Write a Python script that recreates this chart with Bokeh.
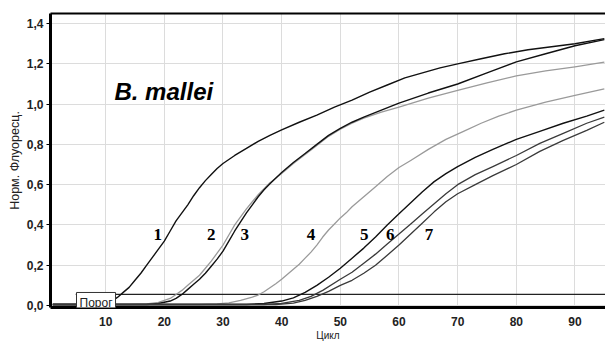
from bokeh.plotting import figure
from bokeh.models import (Range1d, FixedTicker, LinearAxis, Label,
                          CustomJSTickFormatter, ColumnDataSource)
from bokeh.core.properties import value
from bokeh.embed import file_html
from bokeh.resources import INLINE

# ---- data ----
c1_x = [1, 5, 9, 11, 12, 13, 14, 15, 16, 17, 18, 19, 20, 21, 22, 23, 24, 25, 26, 27, 28, 29, 30, 32, 34, 36, 38, 40, 43, 46, 49, 52, 55, 58, 61, 64, 67, 70, 74, 78, 82, 86, 90, 95]
c1_y = [0.005, 0.005, 0.008, 0.02, 0.04, 0.065, 0.09, 0.125, 0.16, 0.20, 0.24, 0.28, 0.32, 0.37, 0.42, 0.46, 0.50, 0.545, 0.585, 0.62, 0.65, 0.68, 0.705, 0.745, 0.78, 0.815, 0.845, 0.872, 0.91, 0.945, 0.985, 1.02, 1.06, 1.095, 1.13, 1.155, 1.18, 1.20, 1.225, 1.25, 1.27, 1.285, 1.30, 1.325]

c2_x = [1, 14, 17, 19, 21, 22, 23, 24, 25, 26, 27, 28, 29, 30, 31, 32, 33, 34, 35, 36, 37, 38, 40, 42, 44, 46, 48, 50, 52, 54, 57, 60, 65, 70, 75, 80, 85, 90, 95]
c2_y = [0.005, 0.005, 0.008, 0.015, 0.035, 0.055, 0.075, 0.10, 0.125, 0.15, 0.185, 0.22, 0.26, 0.30, 0.35, 0.40, 0.44, 0.48, 0.515, 0.55, 0.58, 0.61, 0.655, 0.705, 0.75, 0.795, 0.84, 0.875, 0.905, 0.93, 0.96, 0.985, 1.03, 1.068, 1.105, 1.14, 1.165, 1.185, 1.208]

c3_x = [1, 17, 19, 21, 22, 23, 24, 25, 26, 27, 28, 29, 30, 31, 32, 33, 34, 35, 36, 37, 38, 40, 42, 44, 46, 48, 50, 52, 54, 57, 60, 65, 70, 75, 80, 85, 90, 95]
c3_y = [0.005, 0.005, 0.01, 0.022, 0.035, 0.055, 0.08, 0.105, 0.13, 0.16, 0.195, 0.23, 0.27, 0.32, 0.37, 0.415, 0.46, 0.50, 0.54, 0.575, 0.605, 0.66, 0.71, 0.755, 0.80, 0.845, 0.88, 0.91, 0.935, 0.97, 1.005, 1.055, 1.10, 1.155, 1.21, 1.25, 1.29, 1.32]

c4_x = [1, 26, 29, 31, 33, 35, 36, 37, 38, 39, 40, 41, 42, 43, 44, 45, 46, 47, 48, 49, 50, 51, 52, 53, 54, 56, 58, 60, 62, 65, 68, 71, 74, 77, 80, 85, 90, 95]
c4_y = [0.005, 0.005, 0.008, 0.013, 0.025, 0.042, 0.052, 0.068, 0.088, 0.108, 0.13, 0.155, 0.18, 0.205, 0.235, 0.265, 0.30, 0.34, 0.375, 0.405, 0.435, 0.46, 0.49, 0.515, 0.54, 0.59, 0.64, 0.685, 0.72, 0.775, 0.825, 0.865, 0.905, 0.94, 0.97, 1.01, 1.043, 1.076]

c5_x = [1, 34, 37, 40, 42, 44, 46, 48, 50, 52, 54, 56, 58, 60, 62, 64, 66, 68, 70, 73, 76, 80, 84, 88, 92, 95]
c5_y = [0.005, 0.005, 0.01, 0.022, 0.038, 0.065, 0.10, 0.14, 0.185, 0.235, 0.285, 0.34, 0.40, 0.455, 0.51, 0.565, 0.615, 0.655, 0.69, 0.735, 0.775, 0.825, 0.865, 0.905, 0.94, 0.97]

c6_x = [1, 37, 40, 43, 45, 47, 50, 52, 54, 56, 58, 60, 62, 64, 66, 68, 70, 73, 76, 80, 84, 88, 92, 95]
c6_y = [0.005, 0.005, 0.01, 0.025, 0.045, 0.075, 0.13, 0.165, 0.21, 0.255, 0.305, 0.355, 0.405, 0.455, 0.505, 0.555, 0.60, 0.65, 0.69, 0.745, 0.805, 0.855, 0.905, 0.935]

c7_x = [1, 39, 42, 44, 46, 48, 50, 52, 54, 56, 58, 60, 62, 64, 66, 68, 70, 73, 76, 80, 84, 88, 92, 95]
c7_y = [0.005, 0.005, 0.012, 0.025, 0.045, 0.07, 0.10, 0.125, 0.16, 0.20, 0.25, 0.30, 0.355, 0.41, 0.465, 0.515, 0.555, 0.60, 0.645, 0.70, 0.765, 0.82, 0.87, 0.91]

threshold = 0.055
thr_x = [4.9, 96]

curve_labels = ["1", "2", "3", "4", "5", "6", "7"]
curve_label_x = [18.9, 28.0, 33.7, 45.0, 54.1, 58.5, 65.1]
curve_label_y = [0.355] * 7

x_ticks = [10, 20, 30, 40, 50, 60, 70, 80, 90]
y_ticks = [0.0, 0.2, 0.4, 0.6, 0.8, 1.0, 1.2, 1.4]

title_text = "B. mallei"
threshold_text = "Порог"
x_title = "Цикл"
y_title = "Норм. Флуоресц."

# ---- figure ----
p = figure(width=605, height=343, output_backend="svg", toolbar_location=None,
           x_range=Range1d(0.6, 95.2), y_range=Range1d(-0.01, 1.45),
           min_border_left=50, min_border_right=0, min_border_top=13, min_border_bottom=36)
p.outline_line_color = None
p.background_fill_color = "white"
p.border_fill_color = "white"

FONT = "Liberation Sans"

p.xaxis.ticker = FixedTicker(ticks=x_ticks)
p.yaxis.ticker = FixedTicker(ticks=y_ticks)
p.yaxis.formatter = CustomJSTickFormatter(code="return tick.toFixed(1).replace('.', ',');")

for ax in (p.xaxis[0], p.yaxis[0]):
    ax.axis_line_color = "black"
    ax.axis_line_width = 3
    ax.minor_tick_line_color = None
    ax.major_label_text_font = FONT
    ax.major_label_text_font_size = "12px"
    ax.major_label_text_font_style = "bold"
    ax.major_label_text_color = "#222222"
    ax.axis_label_text_font = FONT
    ax.axis_label_text_font_style = "normal"
    ax.axis_label_text_color = "#222222"

p.xaxis.major_tick_out = 0
p.xaxis.major_tick_in = 0
p.xaxis.major_label_standoff = 9
p.xaxis.axis_label = x_title
p.xaxis.axis_label_text_font_size = "10px"
p.xaxis.axis_label_standoff = 1

p.yaxis.major_tick_out = 4
p.yaxis.major_tick_in = 0
p.yaxis.major_tick_line_color = "black"
p.yaxis.major_label_standoff = 3
p.yaxis.axis_label = y_title
p.yaxis.axis_label_text_font_size = "12.5px"
p.yaxis.axis_label_standoff = 2

top_axis = LinearAxis(ticker=FixedTicker(ticks=[]), axis_line_width=2, axis_line_color="black",
                      major_tick_out=0, major_tick_in=0, minor_tick_out=0, minor_tick_in=0,
                      major_label_text_font_size="0px")
p.add_layout(top_axis, "above")

p.xgrid.grid_line_color = "#dcdcdc"
p.ygrid.grid_line_color = "#dcdcdc"
p.xgrid.grid_line_width = 1
p.ygrid.grid_line_width = 1

# threshold line
p.line(thr_x, [threshold, threshold], line_color="#222222", line_width=1.2)

# curves
curves = [
    (c1_x, c1_y, "#111111", 1.4),
    (c2_x, c2_y, "#9a9a9a", 1.3),
    (c3_x, c3_y, "#111111", 1.4),
    (c4_x, c4_y, "#9a9a9a", 1.3),
    (c5_x, c5_y, "#111111", 1.4),
    (c6_x, c6_y, "#3a3a3a", 1.3),
    (c7_x, c7_y, "#3a3a3a", 1.3),
]
for xs, ys, col, w in curves:
    p.line(xs, ys, line_color=col, line_width=w, line_join="round")

# numbers on curves
src = ColumnDataSource(dict(x=curve_label_x, y=curve_label_y, t=curve_labels))
p.text(x="x", y="y", text="t", source=src, text_font=value("Liberation Serif"),
       text_font_style="bold", text_font_size="17px", text_align="center",
       text_baseline="middle", text_color="black")

# title inside plot
p.add_layout(Label(x=11.5, y=1.065, text=title_text, text_font=FONT,
                   text_font_style="bold italic", text_font_size="24px",
                   text_color="black", text_baseline="alphabetic", text_align="left"))

# threshold box
p.add_layout(Label(x=8.36, y=0.01, text=threshold_text, text_font=FONT,
                   text_font_size="12px", text_color="#222222",
                   text_align="center", text_baseline="middle",
                   background_fill_color="white", border_line_color="#333333",
                   border_line_width=1, padding=(3, 4)))

open("out.html", "w").write(file_html(p, INLINE))
